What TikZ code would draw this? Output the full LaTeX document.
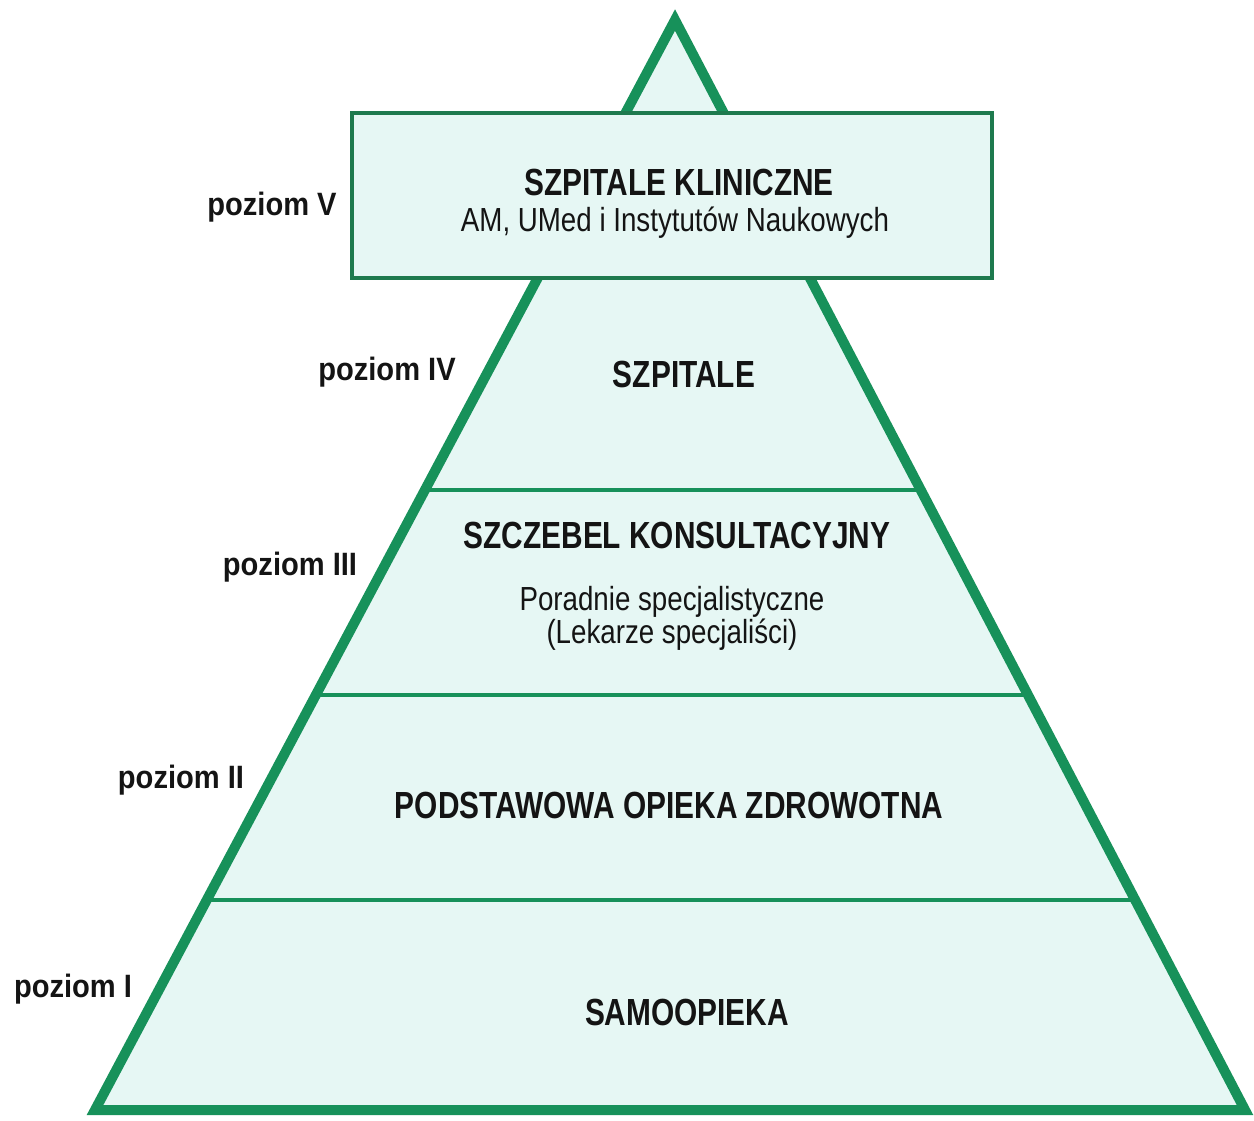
\documentclass[tikz,border=0pt]{standalone}
\usepackage{fontspec}
\setmainfont{Liberation Sans}
\newfontfamily\narrowsans[FakeStretch=0.79]{Liberation Sans}
\newfontfamily\subsans[FakeStretch=0.83]{Liberation Sans}
\newfontfamily\levelsans[FakeStretch=0.9]{Liberation Sans}
\usetikzlibrary{calc}

\definecolor{pyrgreen}{HTML}{17915A}
\definecolor{boxgreen}{HTML}{1E7A4E}
\definecolor{pyrfill}{HTML}{E6F7F4}
\definecolor{ink}{HTML}{141414}

\begin{document}
\begin{tikzpicture}[x=0.02cm, y=-0.02cm,
    level/.style={font=\levelsans\fontsize{18.4}{22}\selectfont\bfseries, text=ink, inner sep=0pt, anchor=base},
    title/.style={font=\narrowsans\fontsize{21.5}{25}\selectfont\bfseries, text=ink, inner sep=0pt, anchor=base},
    sub/.style={font=\subsans\fontsize{19}{23}\selectfont, text=ink, inner sep=0pt, anchor=base}]
\useasboundingbox (0,0) rectangle (1254,1120);

% pyramid
\coordinate (apex) at (675,20);
\coordinate (bl) at (95,1110);
\coordinate (br) at (1245,1110);
\fill [pyrfill] (apex) -- (bl) -- (br) -- cycle;

% floors
\foreach \t in {0.4312,0.6193,0.8073}
  \draw [pyrgreen, line width=2.3pt] ($(apex)!\t!(bl)$) -- ($(apex)!\t!(br)$);
\draw [pyrgreen, line width=5.7pt, line join=miter] (apex) -- (bl) -- (br) -- cycle;

% top box
\fill [pyrfill] (352,113) rectangle (992,278);
\draw [boxgreen, line width=2.3pt] (352,113) rectangle (992,278);

\node [title] (klin) at (679,195) {SZPITALE KLINICZNE};
\node [sub] (klinsub) at (675,231) {AM, UMed i Instytutów Naukowych};
\node [title] (szp) at (684,387) {SZPITALE};
\node [title] (kons) at (677,548) {SZCZEBEL KONSULTACYJNY};
\node [sub] (konsa) at (672,610) {Poradnie specjalistyczne};
\node [sub] (konsb) at (672,643) {(Lekarze specjaliści)};
\node [title] (poz) at (669,818) {PODSTAWOWA OPIEKA ZDROWOTNA};
\node [title] (samo) at (687,1025) {SAMOOPIEKA};

\node [level] (lv5) at (272,215) {poziom V};
\node [level] (lv4) at (387,380) {poziom IV};
\node [level] (lv3) at (290,575) {poziom III};
\node [level] (lv2) at (181,788) {poziom II};
\node [level] (lv1) at (73,997) {poziom I};
\end{tikzpicture}
\end{document}
